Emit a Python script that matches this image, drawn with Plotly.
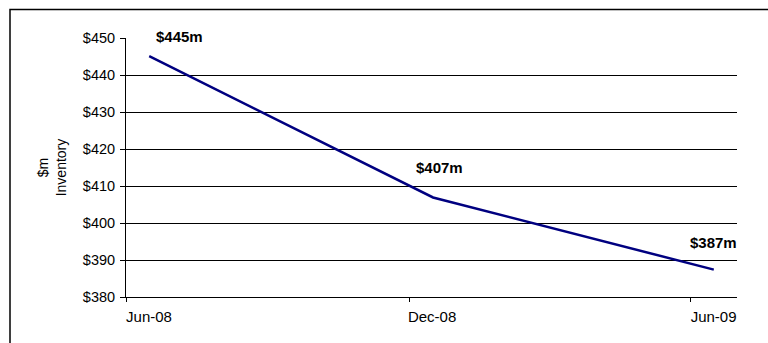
import pandas as pd
import plotly.graph_objects as go

# ---- data ----
period_ends = ["2008-06-30", "2008-12-31", "2009-06-30"]
inventory_m = [445.1, 406.9, 387.4]
point_labels = ["$445m", "$407m", "$387m"]
tick_dates = ["2008-06-01", "2008-12-01", "2009-06-01"]
y_title = "$m<br>Inventory"

FONT = "Liberation Sans, Arial, sans-serif"
W, H = 768, 343
ML, MR, MT, MB = 126, 31, 38, 46

fig = go.Figure()
fig.add_trace(go.Scatter(
    x=period_ends, y=inventory_m, mode="lines",
    xperiod="M1", xperiodalignment="middle",
    line=dict(color="#000080", width=2.5),
    hoverinfo="skip", showlegend=False,
))

# mid-month positions for labels (same as xperiodalignment='middle')
def mid_month(d):
    p = pd.Timestamp(d).to_period("M")
    s, e = p.start_time, (p + 1).start_time
    return (s + (e - s) / 2).strftime("%Y-%m-%d %H:%M")

label_shift = [(30, 20), (6, 30), (0, 27)]
for d, v, t, (dx, dy) in zip(period_ends, inventory_m, point_labels, label_shift):
    fig.add_annotation(x=mid_month(d), y=v, text="<b>%s</b>" % t, showarrow=False,
                       xshift=dx, yshift=dy, font=dict(family=FONT, size=15, color="black"))

pw = W - ML - MR
ph = H - MT - MB
fig.add_shape(type="rect", xref="paper", yref="paper",
              x0=(10 - ML) / pw, x1=2.0, y0=-2.0, y1=1 + (MT - 9.5) / ph,
              line=dict(color="black", width=1.5), fillcolor="rgba(0,0,0,0)", layer="above")

fig.update_layout(
    width=W, height=H, margin=dict(l=ML, r=MR, t=MT, b=MB),
    paper_bgcolor="white", plot_bgcolor="white",
    font=dict(family=FONT, size=15, color="black"),
    xaxis=dict(type="date", range=["2008-06-01", "2009-07-01"],
               tickvals=tick_dates, tickformat="%b-%y",
               ticks="outside", ticklen=4, tickcolor="black",
               showline=True, linecolor="black", linewidth=1,
               showgrid=False, zeroline=False, ticklabelshift=23,
               ticklabelstandoff=2,
               tickfont=dict(size=15)),
    yaxis=dict(range=[380, 450], dtick=10, tickprefix="$",
               ticks="outside", ticklen=5, tickcolor="black",
               showline=True, linecolor="black", linewidth=1,
               showgrid=True, gridcolor="black", gridwidth=1, zeroline=False,
               ticklabelstandoff=2,
               tickfont=dict(size=14.5),
               title=dict(text=y_title, font=dict(size=14), standoff=12)),
)

fig.write_html("out.html")
